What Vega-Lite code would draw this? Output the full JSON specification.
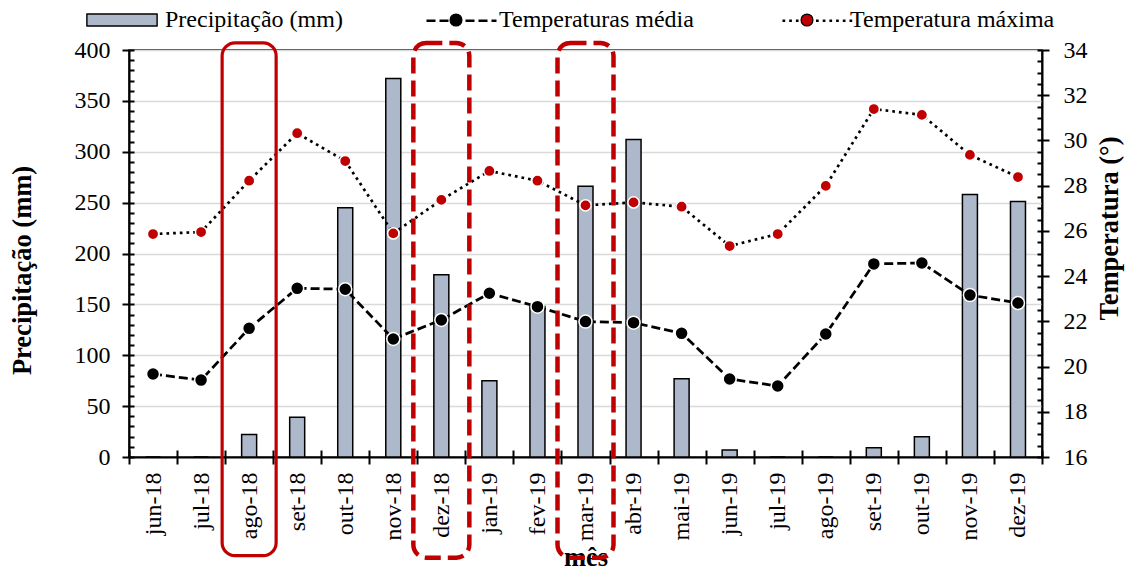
{
  "$schema": "https://vega.github.io/schema/vega-lite/v6.json",
  "autosize": "none",
  "width": 913,
  "height": 407,
  "padding": {"left": 129, "top": 50, "right": 87, "bottom": 110},
  "background": "white",
  "config": {
    "font": "Liberation Serif",
    "view": {"stroke": "black", "strokeWidth": 1.5},
    "axis": {
      "labelFont": "Liberation Serif", "labelFontSize": 24, "labelColor": "black",
      "titleFont": "Liberation Serif", "titleFontSize": 26.5, "titleFontWeight": "bold", "titleColor": "black",
      "domainColor": "black", "domainWidth": 2, "tickColor": "black", "tickWidth": 2,
      "grid": false, "labelOverlap": false, "labelFlush": false
    }
  },
  "datasets": {
    "clima": [
      {"mes": "jun-18", "precip": 0, "tmed": 19.67, "tmax": 25.86},
      {"mes": "jul-18", "precip": 0, "tmed": 19.40, "tmax": 25.95},
      {"mes": "ago-18", "precip": 22, "tmed": 21.69, "tmax": 28.22},
      {"mes": "set-18", "precip": 39, "tmed": 23.46, "tmax": 30.32},
      {"mes": "out-18", "precip": 245, "tmed": 23.42, "tmax": 29.09},
      {"mes": "nov-18", "precip": 372, "tmed": 21.22, "tmax": 25.89},
      {"mes": "dez-18", "precip": 179, "tmed": 22.06, "tmax": 27.37},
      {"mes": "jan-19", "precip": 75, "tmed": 23.24, "tmax": 28.65},
      {"mes": "fev-19", "precip": 148, "tmed": 22.65, "tmax": 28.22},
      {"mes": "mar-19", "precip": 266, "tmed": 21.99, "tmax": 27.13},
      {"mes": "abr-19", "precip": 312, "tmed": 21.94, "tmax": 27.26},
      {"mes": "mai-19", "precip": 77, "tmed": 21.47, "tmax": 27.07},
      {"mes": "jun-19", "precip": 7, "tmed": 19.45, "tmax": 25.33},
      {"mes": "jul-19", "precip": 0, "tmed": 19.14, "tmax": 25.86},
      {"mes": "ago-19", "precip": 0, "tmed": 21.44, "tmax": 27.99},
      {"mes": "set-19", "precip": 9, "tmed": 24.54, "tmax": 31.39},
      {"mes": "out-19", "precip": 20, "tmed": 24.58, "tmax": 31.13},
      {"mes": "nov-19", "precip": 258, "tmed": 23.16, "tmax": 29.36},
      {"mes": "dez-19", "precip": 251, "tmed": 22.81, "tmax": 28.38}
    ],
    "destaque_solido": [{"mes": "ago-18"}],
    "destaque_tracejado": [{"mes": "dez-18"}, {"mes": "mar-19"}]
  },
  "layer": [
    {
      "data": {"name": "clima"},
      "mark": {"type": "bar", "width": 15, "strokeWidth": 1.5},
      "encoding": {
        "x": {
          "field": "mes", "type": "ordinal",
          "scale": {"domain": ["jun-18","jul-18","ago-18","set-18","out-18","nov-18","dez-18","jan-19","fev-19","mar-19","abr-19","mai-19","jun-19","jul-19","ago-19","set-19","out-19","nov-19","dez-19"], "paddingInner": 0, "paddingOuter": 0},
          "axis": {"orient": "bottom", "title": "mês", "labelAngle": -90, "tickBand": "extent", "tickSize": 7, "labelPadding": 8, "titleY": 108, "titleBaseline": "alphabetic"}
        },
        "y": {
          "field": "precip", "type": "quantitative",
          "scale": {"domain": [0, 400], "nice": false},
          "axis": {"orient": "left", "values": [0, 50, 100, 150, 200, 250, 300, 350, 400], "grid": true, "gridColor": "#d9d9d9", "gridWidth": 1.5, "tickSize": 7, "labelPadding": 12, "title": "Precipitação (mm)", "titleAngle": -90, "titleX": -99, "titleY": 220, "titleBaseline": "alphabetic", "titleAlign": "center"}
        },
        "fill": {
          "datum": "Precipitação (mm)", "type": "nominal",
          "scale": {"domain": ["Precipitação (mm)", "Temperaturas média", "Temperatura máxima"], "range": ["#adb9ca", "black", "#c00000"]},
          "legend": {
            "orient": "none", "legendX": -43, "legendY": -66, "direction": "horizontal", "title": null,
            "symbolSize": 4900, "symbolStrokeWidth": 1.2, "symbolOpacity": 1, "labelOffset": 7, "columnPadding": 75,
            "labelFont": "Liberation Serif", "labelFontSize": 24, "labelColor": "black", "labelLimit": 400,
            "padding": 0, "zindex": 2
          }
        },
        "stroke": {
          "datum": "Precipitação (mm)", "type": "nominal",
          "scale": {"domain": ["Precipitação (mm)"], "range": ["black"]},
          "legend": {
            "orient": "none", "legendX": -43, "legendY": -66, "direction": "horizontal", "title": null,
            "symbolType": "M-1,-0.17H1V0.17H-1Z", "symbolSize": 4900, "symbolStrokeWidth": 1.2, "symbolFillColor": "transparent",
            "labelOffset": 7, "labelExpr": "''", "labelFont": "Liberation Serif", "labelFontSize": 24,
            "padding": 0, "zindex": 3
          }
        }
      }
    },
    {
      "data": {"name": "clima"},
      "layer": [
        {
          "mark": {"type": "line", "stroke": "black", "strokeWidth": 2.75},
          "encoding": {
            "x": {"field": "mes", "type": "ordinal", "axis": null},
            "y": {
              "field": "tmed", "type": "quantitative",
              "scale": {"domain": [16, 34], "nice": false, "zero": false},
              "axis": {"orient": "right", "values": [16, 18, 20, 22, 24, 26, 28, 30, 32, 34], "tickSize": 7, "labelPadding": 14, "title": "Temperatura (°)", "titleAngle": -90, "titleX": 75, "titleY": 178, "titleBaseline": "alphabetic", "titleAlign": "center"}
            },
            "strokeDash": {
              "datum": "Temperaturas média", "type": "nominal",
              "scale": {"domain": ["Temperaturas média", "Temperatura máxima"], "range": [[9, 4], [2.7, 4]]},
              "legend": {
                "orient": "none", "legendX": 296, "legendY": -66, "direction": "horizontal", "title": null,
                "symbolType": "stroke", "symbolSize": 4900, "symbolStrokeWidth": 2.7, "symbolStrokeColor": "black",
                "labelOffset": 7, "columnPadding": 272, "labelExpr": "''",
                "labelFont": "Liberation Serif", "labelFontSize": 24, "labelLimit": 400,
                "padding": 0, "zindex": 1
              }
            }
          }
        },
        {
          "mark": {"type": "line", "stroke": "black", "strokeWidth": 2.7},
          "encoding": {
            "x": {"field": "mes", "type": "ordinal", "axis": null},
            "y": {"field": "tmax", "type": "quantitative", "axis": null},
            "strokeDash": {"datum": "Temperatura máxima", "type": "nominal"}
          }
        },
        {
          "mark": {"type": "point", "filled": true, "size": 5850, "opacity": 1, "stroke": "white", "strokeWidth": 1.5},
          "encoding": {
            "x": {"field": "mes", "type": "ordinal", "axis": null},
            "y": {
              "field": "tmed", "type": "quantitative",
              "axis": {"orient": "right", "values": [16, 16.5, 17, 17.5, 18, 18.5, 19, 19.5, 20, 20.5, 21, 21.5, 22, 22.5, 23, 23.5, 24, 24.5, 25, 25.5, 26, 26.5, 27, 27.5, 28, 28.5, 29, 29.5, 30, 30.5, 31, 31.5, 32, 32.5, 33, 33.5, 34], "tickSize": -5, "labels": false, "domain": false, "title": null, "grid": false}
            },
            "fill": {"datum": "Temperaturas média", "type": "nominal"},
            "shape": {
              "datum": "Temperaturas média", "type": "nominal",
              "scale": {"domain": ["Precipitação (mm)", "Temperaturas média", "Temperatura máxima"], "range": ["M-1,-0.17H1V0.17H-1Z", "M-1,0L-1,0M1,0L1,0M0.17,0A0.17,0.17,0,1,1,-0.17,0A0.17,0.17,0,1,1,0.17,0Z", "M-1,0L-1,0M1,0L1,0M0.17,0A0.17,0.17,0,1,1,-0.17,0A0.17,0.17,0,1,1,0.17,0Z"]},
              "legend": {
                "orient": "none", "legendX": -43, "legendY": -66, "direction": "horizontal", "title": null,
                "symbolSize": 4900, "symbolStrokeWidth": 1.2, "symbolOpacity": 1, "labelOffset": 7, "columnPadding": 75,
                "labelFont": "Liberation Serif", "labelFontSize": 24, "labelColor": "black", "labelLimit": 400,
                "padding": 0, "zindex": 2
              }
            }
          }
        },
        {
          "mark": {"type": "point", "filled": true, "size": 4400, "opacity": 1, "stroke": "white", "strokeWidth": 1.5},
          "encoding": {
            "x": {"field": "mes", "type": "ordinal", "axis": null},
            "y": {"field": "tmax", "type": "quantitative", "axis": null},
            "fill": {"datum": "Temperatura máxima", "type": "nominal"},
            "shape": {"datum": "Temperatura máxima", "type": "nominal"}
          }
        }
      ],
      "resolve": {"axis": {"y": "independent"}}
    },
    {
      "data": {"name": "destaque_solido"},
      "mark": {"type": "bar", "width": 54, "cornerRadius": 13, "fill": "transparent", "stroke": "#c00000", "strokeWidth": 3.2},
      "encoding": {
        "x": {"field": "mes", "type": "ordinal", "axis": {"orient": "bottom", "tickBand": "extent", "tickSize": -7, "labels": false, "domain": false, "title": null}},
        "y": {
          "datum": 407, "type": "quantitative",
          "scale": {"domain": [0, 400], "nice": false},
          "axis": {"orient": "left", "values": [0, 10, 20, 30, 40, 50, 60, 70, 80, 90, 100, 110, 120, 130, 140, 150, 160, 170, 180, 190, 200, 210, 220, 230, 240, 250, 260, 270, 280, 290, 300, 310, 320, 330, 340, 350, 360, 370, 380, 390, 400], "tickSize": -5, "labels": false, "domain": false, "title": null, "grid": false}
        },
        "y2": {"datum": -97}
      }
    },
    {
      "data": {"name": "destaque_tracejado"},
      "mark": {"type": "bar", "width": 56, "cornerRadius": 13, "fill": "transparent", "stroke": "#c00000", "strokeWidth": 4.5, "strokeDash": [16, 7]},
      "encoding": {
        "x": {"field": "mes", "type": "ordinal", "axis": null},
        "y": {"datum": 407, "type": "quantitative", "scale": {"domain": [0, 400], "nice": false}, "axis": null},
        "y2": {"datum": -99}
      }
    }
  ],
  "resolve": {"scale": {"y": "independent"}, "axis": {"x": "independent"}}
}
